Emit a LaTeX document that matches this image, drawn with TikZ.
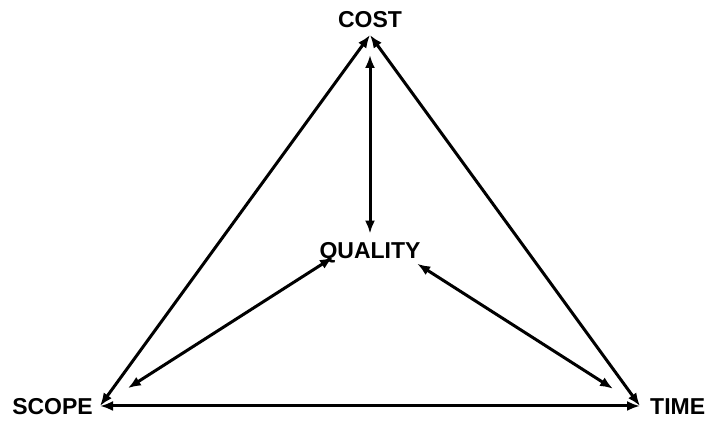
\documentclass[tikz,border=0pt]{standalone}
\usepackage{fontspec}
\setmainfont{Liberation Sans}
\usetikzlibrary{arrows.meta}

\begin{document}
\begin{tikzpicture}[x=1pt, y=1pt,
  word/.style={font=\fontsize{23}{27}\selectfont\bfseries, text height=16.4pt, text depth=0pt, inner sep=0pt},
  link/.style={>={Latex[length=13pt,width=10pt]}, <->, line width=3pt}]
  \useasboundingbox (0,0) rectangle (716,433);

  \node[word, anchor=south, inner ysep=7pt] (cost) at (370,398) {COST};
  \node[word, inner ysep=8pt] (quality) at (370,183) {QUALITY};
  \node[word, anchor=east, inner xsep=7pt] (scope) at (100,27) {SCOPE};
  \node[word, anchor=west, inner xsep=10pt] (time) at (640,27) {TIME};

  \draw[link] (scope.east) -- (cost.south);
  \draw[link] (cost.south) -- (time.west);
  \draw[link] (scope.east) -- (time.west);
  \draw[link, shorten <=20pt] (cost.south) -- (quality.north);
  \draw[link, shorten <=44pt, shorten >=33pt] (quality.north) -- (scope.east);
  \draw[link, shorten <=56pt, shorten >=32pt] (quality.north) -- (time.west);
\end{tikzpicture}
\end{document}
